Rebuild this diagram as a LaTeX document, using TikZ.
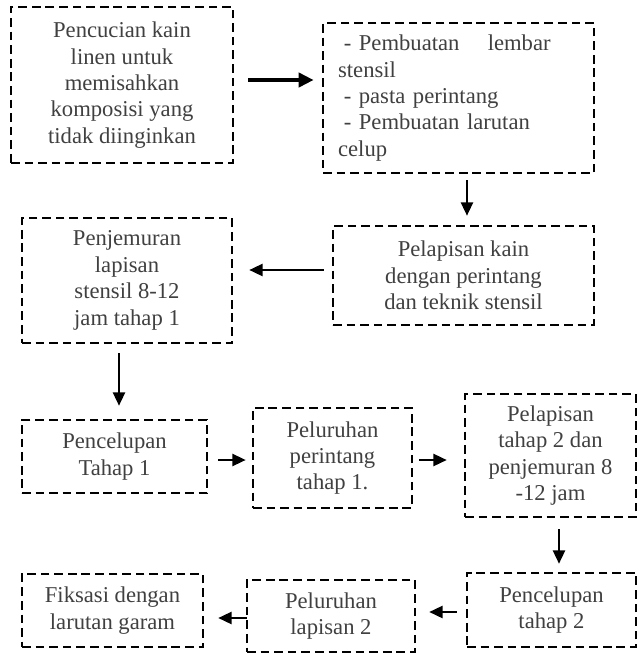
\documentclass[tikz,border=0pt]{standalone}
\usepackage{fontspec}
\setmainfont{Liberation Serif}
\usetikzlibrary{arrows.meta, calc}
\definecolor{TextGray}{RGB}{64, 64, 64}

\begin{document}
\begin{tikzpicture}[x=0.53pt, y=-0.53pt,
    stage/.style={rectangle, draw=black, line width=1.45pt, dash pattern=on 4.6pt off 2.6pt, text=TextGray, align=center, font=\fontsize{12}{14}\selectfont, inner sep=0pt},
    arrow/.style={-{Triangle[length=7pt,width=6.5pt]}, line width=0.75pt, draw=black},
    bigarrow/.style={-{Triangle[length=8pt,width=7.5pt]}, line width=2.1pt, draw=black}
]
\useasboundingbox (0,0) rectangle (642,653);

\node[stage, minimum width=117.7pt, minimum height=82.7pt] (wash) at (122,85) {Pencucian kain\\linen untuk\\memisahkan\\komposisi yang\\tidak diinginkan};
\node[stage, minimum width=143.6pt, minimum height=79.5pt, text width=127.6pt, align=left] (prep) at (458.5,98) {\hspace{3pt}- Pembuatan\hspace{15pt}lembar\\stensil\\\hspace{3pt}- pasta perintang\\\hspace{3pt}- Pembuatan larutan\\celup};
\node[stage, minimum width=138.3pt, minimum height=52.5pt] (coat) at (463.5,275.5) {Pelapisan kain\\dengan perintang\\dan teknik stensil};
\node[stage, minimum width=111.3pt, minimum height=66.3pt] (dry) at (127,280.5) {Penjemuran\\lapisan\\stensil 8-12\\jam tahap 1};
\node[stage, minimum width=98.1pt, minimum height=38.7pt] (dyeone) at (114.5,456.5) {Pencelupan\\Tahap 1};
\node[stage, minimum width=84.3pt, minimum height=53pt] (stripone) at (332.5,458) {Peluruhan\\perintang\\tahap 1.};
\node[stage, minimum width=90.6pt, minimum height=65.2pt] (coattwo) at (550.5,455.5) {Pelapisan\\tahap 2 dan\\penjemuran 8\\-12 jam};
\node[stage, minimum width=89.6pt, minimum height=39.2pt] (dyetwo) at (551.5,610) {Pencelupan\\tahap 2};
\node[stage, minimum width=89pt, minimum height=38.2pt] (striptwo) at (331,616) {Peluruhan\\lapisan 2};
\node[stage, minimum width=95.9pt, minimum height=38.7pt] (fix) at (112.5,610.5) {Fiksasi dengan\\larutan garam};

% flow
\draw[bigarrow] ($(wash.east)+(14,-5)$) -- ($(wash.east -| prep.west)+(-8,-5)$);
\draw[arrow] ($(coat.north |- prep.south)+(3.5,6)$) -- ($(coat.north)+(3.5,-9)$);
\draw[arrow] ($(coat.west)+(-8,-5.5)$) -- ($(dry.east |- coat.west)+(16,-5.5)$);
\draw[arrow] ($(dry.south)+(-8,9)$) -- ($(dry.south |- dyeone.north)+(-8,-13)$);
\draw[arrow] ($(dyeone.east)+(10,3.5)$) -- ($(stripone.west |- dyeone.east)+(-6,3.5)$);
\draw[arrow] ($(stripone.east)+(6,2)$) -- ($(coattwo.west |- stripone.east)+(-17,2)$);
\draw[arrow] ($(coattwo.south)+(8.5,11)$) -- ($(coattwo.south |- dyetwo.north)+(8.5,-8)$);
\draw[arrow] ($(dyetwo.west)+(-9,2)$) -- ($(striptwo.east |- dyetwo.west)+(13,2)$);
\draw[arrow] ($(striptwo.west)+(1,2)$) -- ($(fix.east |- striptwo.west)+(14,2)$);
\end{tikzpicture}
\end{document}
